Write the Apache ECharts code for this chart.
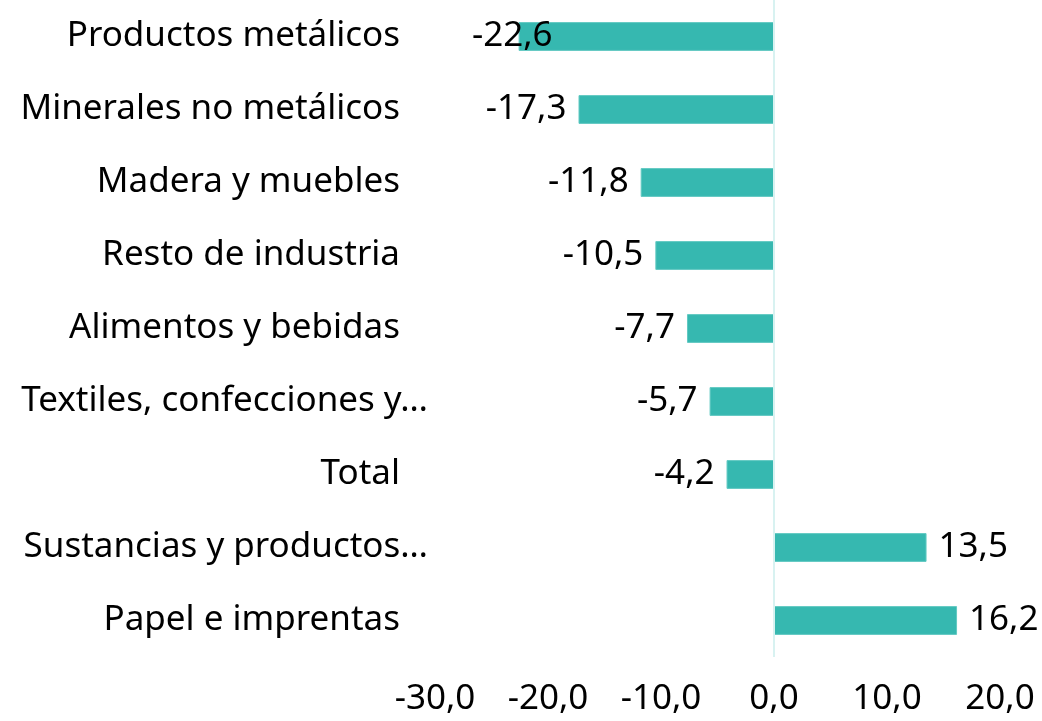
<!DOCTYPE html>
<html>
<head>
<meta charset="utf-8">
<script src="https://cdn.jsdelivr.net/npm/echarts@6/dist/echarts.min.js"></script>
<style>
  html, body { margin: 0; padding: 0; background: #fff; }
  #chart { width: 1042px; height: 721px; }
</style>
</head>
<body>
<div id="chart"></div>
<script>
const categories = [
  'Productos metálicos',
  'Minerales no metálicos',
  'Madera y muebles',
  'Resto de industria',
  'Alimentos y bebidas',
  'Textiles, confecciones y…',
  'Total',
  'Sustancias y productos…',
  'Papel e imprentas'
]
const values = [-22.6, -17.3, -11.8, -10.5, -7.7, -5.7, -4.2, 13.5, 16.2]
const xTicks = { min: -30, max: 20, interval: 10 }

const font = '"Noto Sans", "Open Sans", sans-serif'
const fs = 35
const fmt = v => v.toFixed(1).replace('.', ',')

let seriesData = values.map((v, i) => {
  let item = { value: v, label: { position: v < 0 ? 'left' : 'right' } }
  // first label is pulled back inside the plot, over the bar
  if (i === 0) item.label.offset = [46, 0]
  return item
})

let option = {
  animation: false,
  grid: { left: 435, right: 42, top: -3, bottom: 64, containLabel: false },
  xAxis: {
    type: 'value',
    min: xTicks.min,
    max: xTicks.max,
    interval: xTicks.interval,
    axisLine: { show: false },
    axisTick: { show: false },
    splitLine: { show: false },
    axisLabel: {
      margin: 25,
      fontSize: fs,
      fontFamily: font,
      color: '#000',
      formatter: v => fmt(v)
    }
  },
  yAxis: {
    type: 'category',
    inverse: true,
    data: categories,
    axisLine: { show: false },
    axisTick: { show: false },
    axisLabel: {
      margin: 7,
      fontSize: fs,
      fontFamily: font,
      color: '#000',
      formatter: v => v.endsWith('…') ? '{t|' + v + '}' : '{n|' + v + '}',
      rich: {
        n: { fontSize: fs, fontFamily: font, color: '#000', padding: [0, 28, 0, 0] },
        t: { fontSize: fs, fontFamily: font, color: '#000' }
      }
    }
  },
  series: [{
    type: 'bar',
    data: seriesData,
    barWidth: '39.5%',
    itemStyle: { color: '#36b8b0', borderColor: '#63cac3', borderWidth: 1 },
    label: {
      show: true,
      distance: 12,
      fontSize: fs,
      fontFamily: font,
      color: '#000',
      formatter: p => fmt(p.value)
    },
    markLine: {
      silent: true,
      symbol: 'none',
      label: { show: false },
      lineStyle: { color: '#d8f2f1', width: 2, type: 'solid' },
      data: [{ xAxis: 0 }]
    }
  }]
}

let myChart = echarts.init(document.getElementById('chart'))
myChart.setOption(option)
</script>
</body>
</html>
